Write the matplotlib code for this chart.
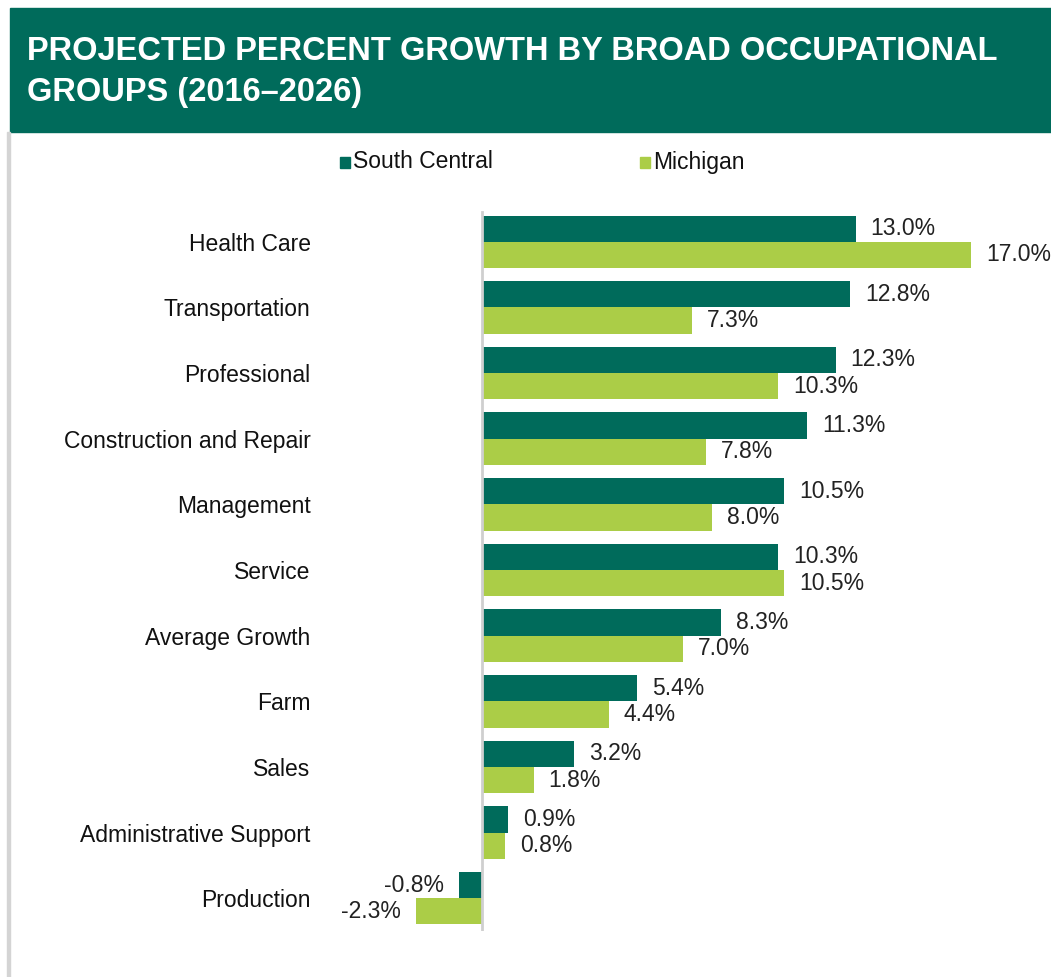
import matplotlib
matplotlib.use("Agg")
import matplotlib.pyplot as plt
from matplotlib.patches import Rectangle
import numpy as np

plt.rcParams['font.family'] = ['Liberation Sans', 'DejaVu Sans']

# data
categories = ["Health Care", "Transportation", "Professional", "Construction and Repair",
              "Management", "Service", "Average Growth", "Farm", "Sales",
              "Administrative Support", "Production"]
south_central = [13.0, 12.8, 12.3, 11.3, 10.5, 10.3, 8.3, 5.4, 3.2, 0.9, -0.8]
michigan = [17.0, 7.3, 10.3, 7.8, 8.0, 10.5, 7.0, 4.4, 1.8, 0.8, -2.3]
series_names = ["South Central", "Michigan"]

DARK = "#006b5b"
LIGHT = "#abcd47"
W, H = 1051, 977
FS = 16.5

fig = plt.figure(figsize=(W / 100, H / 100), dpi=100)

# header banner and left border
fig.patches.append(Rectangle((10 / W, 1 - 132 / H), 1 - 10 / W, 124 / H,
                             transform=fig.transFigure, color=DARK, zorder=0))
fig.patches.append(Rectangle((7 / W, 0), 3 / W, 1 - 132 / H,
                             transform=fig.transFigure, color="#d4d4d4", zorder=0))
fig.text(27 / W, 1 - 51 / H, "PROJECTED PERCENT GROWTH BY BROAD OCCUPATIONAL",
         color="white", fontsize=23.5, fontweight="bold", va="center", ha="left")
fig.text(27 / W, 1 - 93 / H, "GROUPS (2016\u20132026)",
         color="white", fontsize=23.5, fontweight="bold", va="center", ha="left")

# legend
for (lx, name, col) in [(340, series_names[0], DARK), (640, series_names[1], LIGHT)]:
    fig.patches.append(Rectangle((lx / W, 1 - 168 / H), 10 / W, 11 / H,
                                 transform=fig.transFigure, color=col))
    fig.text((lx + 13) / W, 1 - 162 / H, name, fontsize=FS, va="center",
             ha="left", color="#111111")

# axes: zero at x=482px, 28.75 px per unit
left_px, right_px = 330, 1045
scale = 28.75
ax = fig.add_axes([left_px / W, 1 - 931 / H, (right_px - left_px) / W, (931 - 209) / H])
ax.set_xlim((left_px - 482) / scale, (right_px - 482) / scale)
n = len(categories)
ax.set_ylim(n - 0.5, -0.5)

y = np.arange(n)
bh = 0.4
ax.barh(y - bh / 2, south_central, height=bh, color=DARK)
ax.barh(y + bh / 2, michigan, height=bh, color=LIGHT)

off = 15 / scale
for i in range(n):
    for v, yy in [(south_central[i], y[i] - bh / 2), (michigan[i], y[i] + bh / 2)]:
        if v >= 0:
            ax.text(v + off, yy, f"{v:.1f}%", va="center", ha="left",
                    fontsize=FS, color="#222222")
        else:
            ax.text(v - off, yy, f"{v:.1f}%", va="center", ha="right",
                    fontsize=FS, color="#222222")

ax.axvline(0, ymin=0.0, ymax=0.996, color="#cfcfcf", lw=2, zorder=3)

ax.set_yticks(y)
ax.set_yticklabels(categories, fontsize=FS, color="#111111")
ax.tick_params(axis="y", length=0, pad=14)
ax.set_xticks([])
for s in ax.spines.values():
    s.set_visible(False)

fig.savefig("out.png", dpi=100)
